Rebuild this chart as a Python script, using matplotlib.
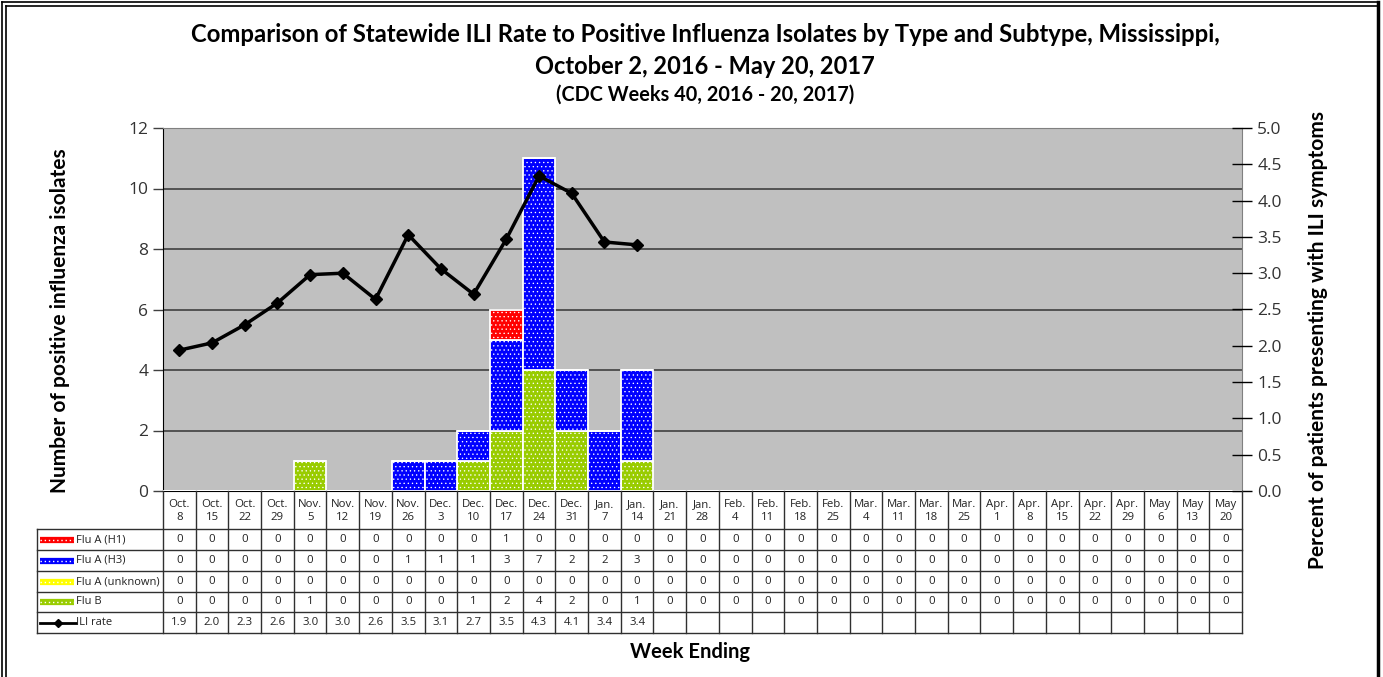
import numpy as np
import matplotlib.pyplot as plt
from matplotlib.lines import Line2D

weeks = ["Oct.\n8", "Oct.\n15", "Oct.\n22", "Oct.\n29", "Nov.\n5", "Nov.\n12", "Nov.\n19",
         "Nov.\n26", "Dec.\n3", "Dec.\n10", "Dec.\n17", "Dec.\n24", "Dec.\n31", "Jan.\n7",
         "Jan.\n14", "Jan.\n21", "Jan.\n28", "Feb.\n4", "Feb.\n11", "Feb.\n18", "Feb.\n25",
         "Mar.\n4", "Mar.\n11", "Mar.\n18", "Mar.\n25", "Apr.\n1", "Apr.\n8", "Apr.\n15",
         "Apr.\n22", "Apr.\n29", "May\n6", "May\n13", "May\n20"]
flu_a_h1 = [0, 0, 0, 0, 0, 0, 0, 0, 0, 0, 1, 0, 0, 0, 0] + [0] * 18
flu_a_h3 = [0, 0, 0, 0, 0, 0, 0, 1, 1, 1, 3, 7, 2, 2, 3] + [0] * 18
flu_a_unk = [0] * 33
flu_b = [0, 0, 0, 0, 1, 0, 0, 0, 0, 1, 2, 4, 2, 0, 1] + [0] * 18
ili_rate = [1.94, 2.04, 2.29, 2.59, 2.98, 3.0, 2.64, 3.53, 3.06, 2.71, 3.47, 4.34, 4.10, 3.43, 3.39]

series_names = ["Flu A (H1)", "Flu A (H3)", "Flu A (unknown)", "Flu B"]
series_colors = ["#ff0000", "#0000ff", "#ffff00", "#99cc00"]

W, H = 1383, 677
fig = plt.figure(figsize=(W / 100, H / 100), dpi=100)
plt.rcParams['font.family'] = ['Open Sans', 'DejaVu Sans']
plt.rcParams['hatch.linewidth'] = 0.45
bold_font = ['Lato', 'DejaVu Sans']

n = len(weeks)
x = np.arange(n)

# plot area in pixels
L, R, T, B = 163, 1242, 128, 491
ax = fig.add_axes([L / W, 1 - B / H, (R - L) / W, (B - T) / H])
ax.set_facecolor("#c0c0c0")
ax.set_xlim(-0.5, n - 0.5)
ax.set_ylim(0, 12)
ax.set_yticks(range(0, 13, 2))
ax.yaxis.grid(True, color="#4a4a4a", lw=1.3)
ax.set_axisbelow(True)
ax.set_xticks([])
ax.tick_params(axis='y', direction='out', length=7, width=1, labelsize=12.5,
               colors='#404040', labelcolor='#333333')
for s in ['top', 'right']:
    ax.spines[s].set_color('#808080')
for s in ['left', 'bottom']:
    ax.spines[s].set_color('black')

stack = [(flu_b, series_colors[3]), (flu_a_h3, series_colors[1]),
         (flu_a_unk, series_colors[2]), (flu_a_h1, series_colors[0])]
bottom = np.zeros(n)
for vals, col in stack:
    vals = np.array(vals, dtype=float)
    ax.bar(x, vals, width=1.0, bottom=bottom, color=col, edgecolor='white',
           lw=1.3, hatch='....', zorder=3)
    bottom += vals

ax2 = ax.twinx()
ax2.set_ylim(0, 5)
ax2.set_yticks(np.arange(0, 5.01, 0.5))
ax2.set_yticklabels([f"{v:.1f}" for v in np.arange(0, 5.01, 0.5)])
ax2.tick_params(axis='y', direction='inout', length=14, width=1, labelsize=12.5,
                labelcolor='#333333', pad=4)
for s in ['top', 'right', 'left', 'bottom']:
    ax2.spines[s].set_visible(False)
ax2.plot(x[:len(ili_rate)], ili_rate, color='black', lw=2.5, marker='D', ms=6, zorder=5)

fig.text(60 / W, 1 - 321 / H, "Number of positive influenza isolates", rotation=90,
         ha='center', va='center', fontsize=15, fontweight='bold', family=bold_font)
fig.text(1318 / W, 1 - 340 / H, "Percent of patients presenting with ILI symptoms",
         rotation=90, ha='center', va='center', fontsize=15, fontweight='bold',
         family=bold_font)

# data table under the chart
unit = (R - L) / n
def px2x(px):
    return -0.5 + (px - L) / unit

TB = 633
tab = fig.add_axes([37 / W, 1 - TB / H, (R - 37) / W, (TB - B) / H])
tab.set_xlim(px2x(37), n - 0.5)
tab.set_ylim(TB - B, 0)
tab.axis('off')
rows = [0, 38, 59, 80, 101, 121, 142]
lc = '#303030'
fs = 8.2
for i in range(n + 1):
    tab.plot([i - 0.5, i - 0.5], [0, rows[-1]], color=lc, lw=1, clip_on=False)
for r in rows[1:]:
    tab.plot([px2x(37), n - 0.5], [r, r], color=lc, lw=1, clip_on=False)
tab.plot([px2x(37), px2x(37)], [rows[1], rows[-1]], color=lc, lw=1, clip_on=False)
for i, w in enumerate(weeks):
    tab.text(i, rows[1] / 2 + 1, w, ha='center', va='center', fontsize=fs,
             color='#222222', linespacing=1.15)

table_rows = [flu_a_h1, flu_a_h3, flu_a_unk, flu_b]
for k, vals in enumerate(table_rows):
    yc = (rows[k + 1] + rows[k + 2]) / 2
    for i, v in enumerate(vals):
        tab.text(i, yc, str(v), ha='center', va='center', fontsize=fs, color='#222222')
    tab.plot([px2x(40), px2x(74)], [yc, yc], color=series_colors[k], lw=4.5,
             solid_capstyle='butt')
    tab.plot([px2x(40), px2x(74)], [yc, yc], color='white', lw=1, ls=(0, (1, 2)))
    tab.text(px2x(76), yc, series_names[k], ha='left', va='center', fontsize=fs - 0.2,
             color='#222222')
yc = (rows[5] + rows[6]) / 2
for i, v in enumerate(ili_rate):
    tab.text(i, yc, f"{v:.1f}", ha='center', va='center', fontsize=fs, color='#222222')
tab.plot([px2x(40), px2x(76)], [yc, yc], color='black', lw=2)
tab.plot([px2x(58)], [yc], color='black', marker='D', ms=4)
tab.text(px2x(76), yc, "ILI rate", ha='left', va='center', fontsize=fs - 0.2,
         color='#222222')

fig.text(705 / W, 1 - 35 / H,
         "Comparison of Statewide ILI Rate to Positive Influenza Isolates by Type and Subtype, Mississippi,",
         ha='center', va='center', fontsize=17.2, fontweight='bold', family=bold_font)
fig.text(705 / W, 1 - 66 / H, "October 2, 2016 - May 20, 2017", ha='center', va='center',
         fontsize=17, fontweight='bold', family=bold_font)
fig.text(705 / W, 1 - 95 / H, "(CDC Weeks 40, 2016 - 20, 2017)", ha='center', va='center',
         fontsize=14.3, fontweight='bold', family=bold_font)
fig.text(690 / W, 1 - 652 / H, "Week Ending", ha='center', va='center', fontsize=14.5,
         fontweight='bold', family=bold_font)

# outer double frame
for px in (1.5, 5.5):
    fig.add_artist(Line2D([px / W, px / W], [0, 1 - px / H], color='black', lw=1.2))
    fig.add_artist(Line2D([px / W, 1378 / W], [1 - px / H, 1 - px / H], color='black', lw=1.2))
fig.add_artist(Line2D([1378 / W, 1378 / W], [0, 1 - 1.5 / H], color='black', lw=2.5))

fig.savefig("out.png", dpi=100)
